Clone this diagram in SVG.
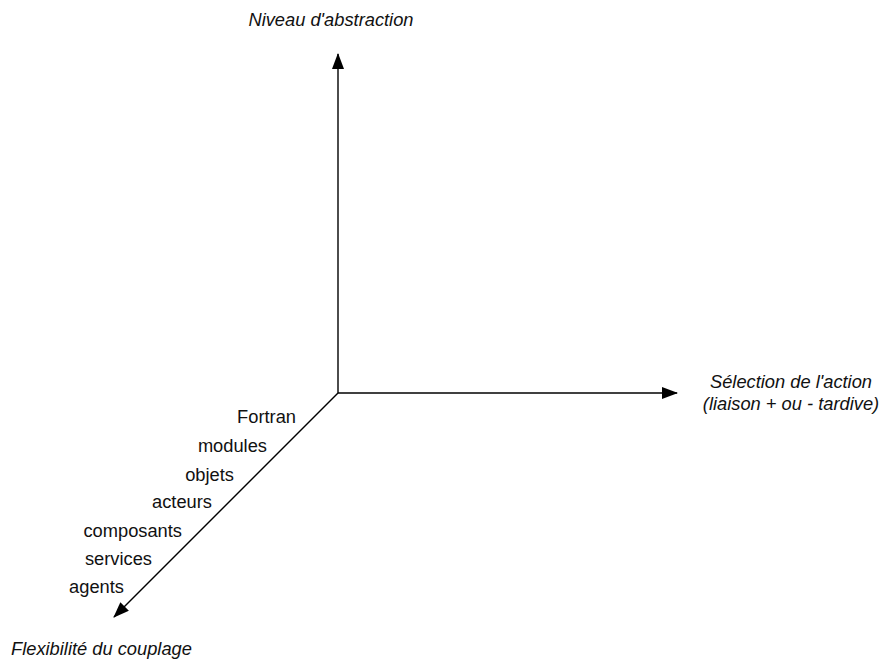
<svg xmlns="http://www.w3.org/2000/svg" width="885" height="660" viewBox="0 0 885 660">
<style>
.ax{stroke:#000;stroke-width:1.4;fill:none}
.t{font-family:"Liberation Sans",Arial,sans-serif;font-size:18.3px;fill:#111}
.it{font-style:italic}
</style>
<defs>
<marker id="ah" markerWidth="16" markerHeight="12" refX="15" refY="6" orient="auto" markerUnits="userSpaceOnUse">
<path d="M0,0 L16,6 L0,12 Z" fill="#000"/>
</marker>
</defs>
<rect width="885" height="660" fill="#fff"/>
<g id="axes">
<line class="ax" x1="338" y1="393" x2="338" y2="54" marker-end="url(#ah)"/>
<line class="ax" x1="338" y1="393" x2="677" y2="393" marker-end="url(#ah)"/>
<line class="ax" x1="338" y1="393" x2="114" y2="617" marker-end="url(#ah)"/>
</g>
<g id="axis-labels">
<text class="t it" x="331" y="26" text-anchor="middle">Niveau d'abstraction</text>
<text class="t it" x="791" y="388" text-anchor="middle">Sélection de l'action</text>
<text class="t it" x="791" y="410" text-anchor="middle">(liaison + ou - tardive)</text>
<text class="t it" x="11" y="655">Flexibilité du couplage</text>
</g>
<g id="items" text-anchor="end">
<text class="t" x="296" y="423">Fortran</text>
<text class="t" x="267" y="452">modules</text>
<text class="t" x="234" y="481">objets</text>
<text class="t" x="212" y="508">acteurs</text>
<text class="t" x="182" y="537">composants</text>
<text class="t" x="152" y="565">services</text>
<text class="t" x="124" y="593">agents</text>
</g>
</svg>
